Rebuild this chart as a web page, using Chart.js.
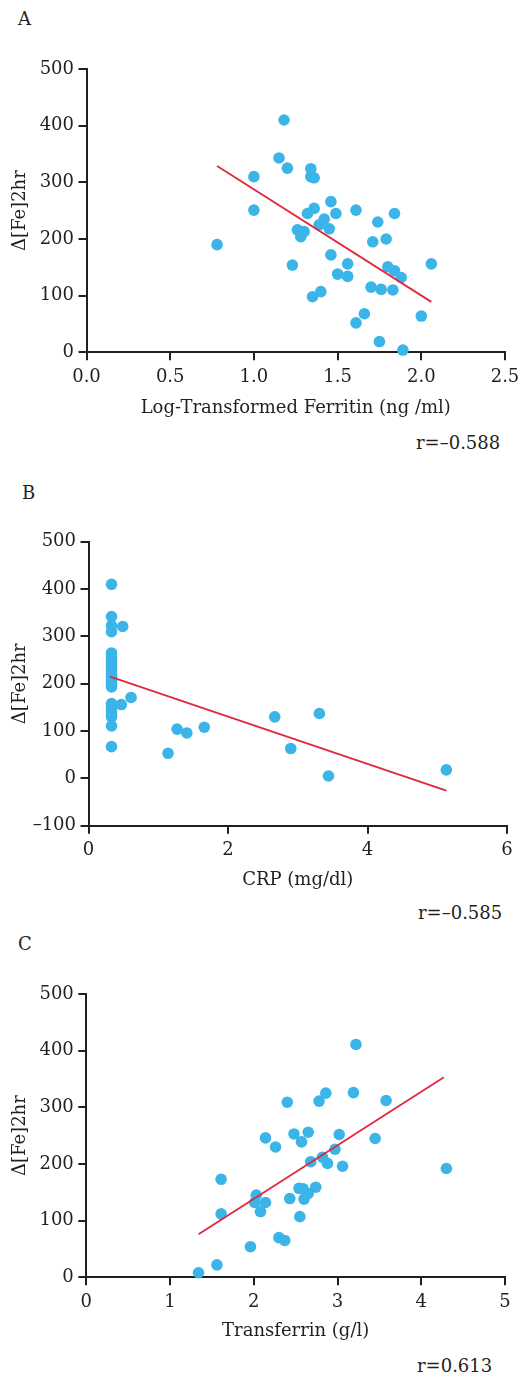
<!DOCTYPE html>
<html><head><meta charset="utf-8">
<script src="https://cdn.jsdelivr.net/npm/chart.js@4"></script>
<style>
body{margin:0;background:#fff;width:530px;height:1378px;position:relative;overflow:hidden;font-family:"DejaVu Serif",serif;color:#231f20}
canvas{position:absolute;left:0}
.lbl{position:absolute;font-size:18px;line-height:1;white-space:nowrap;color:#231f20}
</style></head><body>
<div class="lbl" style="left:18px;top:10.3px">A</div>
<div class="lbl" style="left:22px;top:484.3px">B</div>
<div class="lbl" style="left:18px;top:935.3px">C</div>
<div class="lbl" style="left:416px;top:434.3px">r=–0.588</div>
<div class="lbl" style="left:418px;top:904.3px">r=–0.585</div>
<div class="lbl" style="left:417px;top:1357px">r=0.613</div>
<canvas id="cA" width="530" height="460" style="top:0"></canvas>
<canvas id="cB" width="530" height="460" style="top:460px"></canvas>
<canvas id="cC" width="530" height="458" style="top:920px"></canvas>
<script>
// ---- Panel A: log-transformed ferritin ----
const ferritinX = [1.18,1.15,1.20,1.00,1.34,1.34,1.36,1.00,0.78,1.32,1.36,1.46,1.49,1.61,1.84,1.74,1.26,1.28,1.30,1.39,1.42,1.45,1.71,1.79,1.23,1.46,1.56,1.50,1.56,1.80,1.84,1.88,2.06,1.70,1.76,1.83,1.35,1.40,1.66,1.61,2.00,1.75,1.89];
const ferritinY = [410,343,325,310,324,310,308,251,190,245,254,266,245,251,245,230,216,204,213,225,235,218,195,200,154,172,156,138,134,151,144,132,156,115,111,110,98,107,68,52,64,19,4];
const fitAX = [0.78, 2.06];
const fitAY = [329, 89];

// ---- Panel B: CRP ----
const crpX = [0.33,0.33,0.33,0.33,0.33,0.33,0.33,0.33,0.33,0.33,0.33,0.33,0.33,0.33,0.33,0.33,0.33,0.33,0.33,0.33,0.33,0.33,0.49,0.47,0.61,1.14,1.27,1.41,1.66,2.67,3.31,2.90,3.44,5.13];
const crpY = [410,342,323,310,265,256,248,241,234,227,220,213,206,199,193,158,150,143,136,130,111,67,321,156,171,53,104,96,108,130,137,63,5,18];
const fitBX = [0.31, 5.13];
const fitBY = [215, -26];

// ---- Panel C: transferrin ----
const transX = [3.22,3.19,2.86,2.78,2.40,3.58,2.48,2.65,2.57,3.02,2.14,2.26,3.45,2.97,2.82,2.68,2.88,3.06,4.30,1.61,2.54,2.59,2.74,2.65,2.60,2.43,2.03,2.01,2.14,2.08,1.61,2.55,1.96,2.30,2.37,1.56,1.34];
const transY = [411,326,325,311,309,312,253,256,239,252,246,230,245,226,212,204,201,196,192,173,157,156,159,148,138,139,145,132,132,116,112,107,54,70,65,22,8];
const fitCX = [1.34, 4.27];
const fitCY = [76, 353];

// axis ticks / titles
const yTitle = 'Δ[Fe]2hr';
const titleA = 'Log-Transformed Ferritin (ng /ml)';
const titleB = 'CRP (mg/dl)';
const titleC = 'Transferrin (g/l)';
const ticksA = {xMin:0, xMax:2.5, xStep:0.5, yMin:0, yMax:500, yStep:100, xDec:1};
const ticksB = {xMin:0, xMax:6, xStep:2, yMin:-100, yMax:500, yStep:100, xDec:0};
const ticksC = {xMin:0, xMax:5, xStep:1, yMin:0, yMax:500, yStep:100, xDec:0};

const INK = '#231f20';
const DOT = '#3bb4e8';
const RED = '#e1283c';
const FONT = {family:'"DejaVu Serif", serif', size:18};

function pts(xs, ys){ return xs.map((x,i)=>({x:x, y:ys[i]})); }
function fmt(v, dec){ const s = Number(v).toFixed(dec); return s.replace('-', '–'); }

function make(id, xs, ys, fx, fy, xTitle, tk, geo){
  new Chart(document.getElementById(id), {
    type:'scatter',
    data:{datasets:[
      {type:'line', data:pts(fx,fy), borderColor:RED, borderWidth:1.8, pointRadius:0, fill:false, clip:false},
      {data:pts(xs,ys), backgroundColor:DOT, borderWidth:0, pointRadius:5.8, pointHoverRadius:5.8, clip:false}
    ]},
    options:{
      responsive:false, animation:false, devicePixelRatio:1,
      layout:{padding:{left:0, top:geo.top, right:geo.right, bottom:geo.bottom}},
      plugins:{legend:{display:false}, tooltip:{enabled:false}},
      scales:{
        x:{type:'linear', min:tk.xMin, max:tk.xMax,
           afterFit:s=>{s.height = geo.xH;},
           ticks:{stepSize:tk.xStep, color:INK, font:FONT, padding:6, maxRotation:0,
                  callback:v=>fmt(v, tk.xDec)},
           grid:{drawOnChartArea:false, drawTicks:true, tickLength:8, color:INK, lineWidth:2},
           border:{display:true, color:INK, width:2},
           title:{display:true, text:xTitle, color:INK, font:FONT, padding:{top:0,bottom:0}}},
        y:{type:'linear', min:tk.yMin, max:tk.yMax,
           afterFit:s=>{s.width = geo.yW;},
           ticks:{stepSize:tk.yStep, color:INK, font:FONT, padding:4.5,
                  callback:v=>fmt(v,0)},
           grid:{drawOnChartArea:false, drawTicks:true, tickLength:8, color:INK, lineWidth:2},
           border:{display:true, color:INK, width:2},
           title:{display:true, text:yTitle, color:INK, font:FONT, padding:{top:9.2,bottom:0}}}
      }
    }
  });
}

make('cA', ferritinX, ferritinY, fitAX, fitAY, titleA, ticksA, {top:69, right:25, bottom:41.2, xH:66.5, yW:86.5});
make('cB', crpX, crpY, fitBX, fitBY, titleB, ticksB, {top:81.7, right:23, bottom:28.5, xH:65.8, yW:88.5});
make('cC', transX, transY, fitCX, fitCY, titleC, ticksC, {top:74, right:25, bottom:35.5, xH:65.2, yW:86.3});
</script>
</body></html>
